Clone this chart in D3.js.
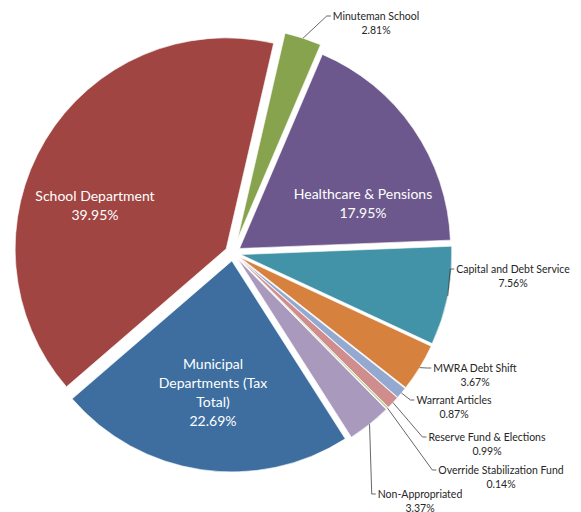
<!DOCTYPE html>
<html>
<head>
<meta charset="utf-8">
<script src="https://cdn.jsdelivr.net/npm/d3@7"></script>
<style>
  body { margin: 0; background: #fff; }
  text { font-family: Lato, "Liberation Sans", sans-serif; }
</style>
</head>
<body>
<svg id="chart" width="581" height="512"></svg>
<script>
// budget shares, clockwise from just right of 12 o'clock
const categories = [
    "Minuteman School", "Healthcare & Pensions", "Capital and Debt Service",
    "MWRA Debt Shift", "Warrant Articles", "Reserve Fund & Elections",
    "Override Stabilization Fund", "Non-Appropriated",
    "Municipal Departments (Tax Total)", "School Department"
];
const shares = [2.81, 17.95, 7.56, 3.67, 0.87, 0.99, 0.14, 3.37, 22.69, 39.95];

const colors = ["#87a34d", "#6c588d", "#4393a8", "#d7813f", "#93a9cf",
                "#cf8e8d", "#bacb93", "#a99abd", "#3d6e9f", "#a04542"];

// layout
const width = 581, height = 512;
const center = {x: 233, y: 253};
const radius = 211;
const startDeg = 13;
const explodeDefault = 8;
const explode = {"Minuteman School": 15};

// labels drawn inside the big slices (position of the text block centre)
const innerLabels = {
    "School Department": {x: 95, y: 195, lines: ["School Department"]},
    "Healthcare & Pensions": {x: 363, y: 193, lines: ["Healthcare & Pensions"]},
    "Municipal Departments (Tax Total)": {x: 213, y: 363, lines: ["Municipal", "Departments (Tax", "Total)"]}
};
// labels outside with leader lines (centre x, first line y)
const outerLabels = {
    "Minuteman School": {x: 376, y: 16},
    "Capital and Debt Service": {x: 513, y: 269},
    "MWRA Debt Shift": {x: 475, y: 368},
    "Warrant Articles": {x: 454, y: 400},
    "Reserve Fund & Elections": {x: 487, y: 437},
    "Override Stabilization Fund": {x: 501, y: 470},
    "Non-Appropriated": {x: 420, y: 494}
};

const data = categories.map(function (c, i) { return {name: c, value: shares[i], color: colors[i]}; });
const fmt = function (v) { return d3.format(".2f")(v) + "%"; };

const svg = d3.select("#chart");
const g = svg.append("g")
    .attr("transform", "translate(" + center.x + "," + center.y + ")");

const start = startDeg * Math.PI / 180;
const pie = d3.pie()
    .sort(null)
    .value(function (d) { return d.value; })
    .startAngle(start)
    .endAngle(start + 2 * Math.PI);

const arc = d3.arc().innerRadius(0).outerRadius(radius);
const arcs = pie(data);

function offsetOf(d) {
    const a = (d.startAngle + d.endAngle) / 2;
    const e = explode[d.data.name] !== undefined ? explode[d.data.name] : explodeDefault;
    return {x: e * Math.sin(a), y: -e * Math.cos(a), a: a};
}

g.selectAll(".slice")
    .data(arcs)
    .enter().append("path")
    .attr("class", "slice")
    .attr("d", arc)
    .attr("fill", function (d) { return d.data.color; })
    .attr("stroke", "#fff")
    .attr("stroke-width", 0.6)
    .attr("transform", function (d) {
        const o = offsetOf(d);
        return "translate(" + o.x + "," + o.y + ")";
    });

// inner labels
const lineH = 19;
arcs.forEach(function (d) {
    const lab = innerLabels[d.data.name];
    if (!lab) return;
    const lines = lab.lines.concat([fmt(d.data.value)]);
    const t = svg.append("text")
        .attr("text-anchor", "middle")
        .attr("fill", "#fff")
        .style("font-size", "14px");
    lines.forEach(function (l, i) {
        t.append("tspan")
            .attr("x", lab.x)
            .attr("y", lab.y + i * lineH)
            .attr("dominant-baseline", "central")
            .text(l);
    });
});

// outer labels with leader lines
const smallH = 13.5;
arcs.forEach(function (d) {
    const lab = outerLabels[d.data.name];
    if (!lab) return;
    const t = svg.append("text")
        .attr("text-anchor", "middle")
        .attr("fill", "#262626")
        .style("font-size", "10.5px");
    const first = t.append("tspan")
        .attr("x", lab.x).attr("y", lab.y)
        .attr("dominant-baseline", "central")
        .text(d.data.name);
    t.append("tspan")
        .attr("x", lab.x).attr("y", lab.y + smallH)
        .attr("dominant-baseline", "central")
        .text(fmt(d.data.value));

    const w = first.node().getComputedTextLength();
    const o = offsetOf(d);
    const sx = center.x + o.x + radius * Math.sin(o.a);
    const sy = center.y + o.y - radius * Math.cos(o.a);
    const ex = lab.x - w / 2 - 2;
    svg.append("polyline")
        .attr("points", [[sx, sy], [ex - 4, lab.y], [ex, lab.y]].map(function (p) { return p.join(","); }).join(" "))
        .attr("fill", "none")
        .attr("stroke", "#404040")
        .attr("stroke-width", 0.8);
});
</script>
</body>
</html>
